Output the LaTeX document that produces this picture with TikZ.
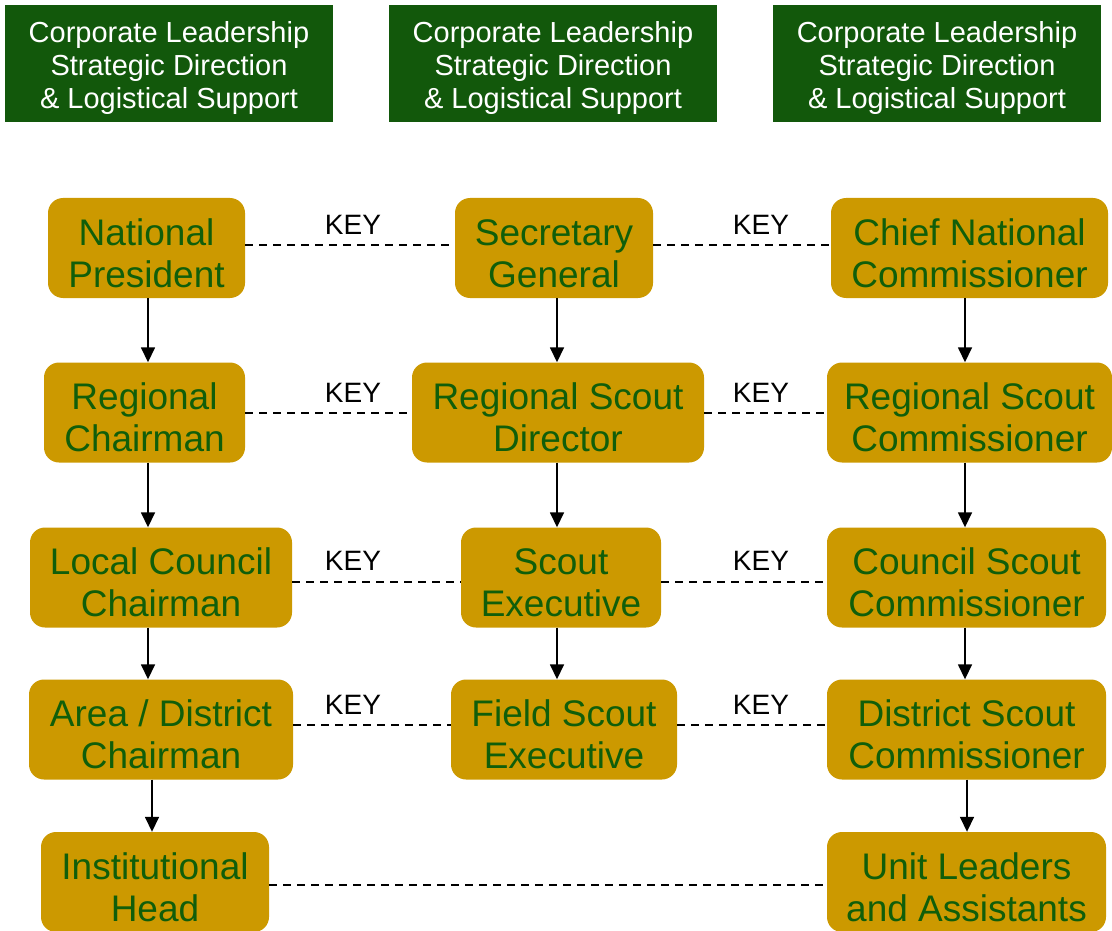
\documentclass[tikz,border=0pt]{standalone}
\usepackage{fontspec}
\setmainfont{Liberation Sans}
\usetikzlibrary{arrows.meta}

\definecolor{leadgreen}{RGB}{18,88,11}
\definecolor{scoutgold}{RGB}{204,153,0}
\definecolor{scouttext}{RGB}{16,94,10}

\begin{document}
\begin{tikzpicture}[x=1pt,y=-1pt]
        \tikzstyle{every node}=[font=\fontsize{37}{42}\selectfont]
        \tikzstyle{corp}=[fill=leadgreen, text=white, align=center, inner sep=0pt,
            minimum width=328pt, minimum height=117pt, font=\fontsize{29}{33}\selectfont,
            execute at begin node={\rule{0pt}{96pt}}]
        \tikzstyle{post}=[fill=scoutgold, text=scouttext, align=center, inner sep=0pt,
            rounded corners=15pt, minimum height=100pt,
            execute at begin node={\rule{0pt}{79pt}}]
        \tikzstyle{keylbl}=[inner sep=0pt, font=\fontsize{28}{32}\selectfont]
        \tikzstyle{chain}=[line width=1.6pt, -{Triangle[width=14pt,length=15pt]}]
        \tikzstyle{key}=[line width=2pt, dash pattern=on 7.5pt off 6.5pt]

        \useasboundingbox (0,0) rectangle (1112,931);

        % corporate support
        \node[corp] (corpA) at (169,63.5) {Corporate Leadership\\Strategic Direction\\\& Logistical Support};
        \node[corp] (corpB) at (553,63.5) {Corporate Leadership\\Strategic Direction\\\& Logistical Support};
        \node[corp] (corpC) at (937,63.5) {Corporate Leadership\\Strategic Direction\\\& Logistical Support};

        % volunteer chairmen
        \node[post, minimum width=197pt] (natPres) at (146.5,248) {National\\President};
        \node[post, minimum width=201pt] (regChair) at (144.5,412.5) {Regional\\Chairman};
        \node[post, minimum width=262pt] (locChair) at (161,577.5) {Local Council\\Chairman};
        \node[post, minimum width=264pt] (distChair) at (161,729.5) {Area / District\\Chairman};
        \node[post, minimum width=228pt] (instHead) at (155,882) {Institutional\\Head};

        % professionals
        \node[post, minimum width=198pt] (secGen) at (554,248) {Secretary\\General};
        \node[post, minimum width=292pt] (regDir) at (558,412.5) {Regional Scout\\Director};
        \node[post, minimum width=200pt] (scoutExec) at (561,577.5) {Scout\\Executive};
        \node[post, minimum width=226pt] (fieldExec) at (564,729.5) {Field Scout\\Executive};

        % commissioners
        \node[post, minimum width=277pt] (chiefComm) at (969.5,248) {Chief National\\Commissioner};
        \node[post, minimum width=285pt] (regComm) at (969.5,412.5) {Regional Scout\\Commissioner};
        \node[post, minimum width=279pt] (counComm) at (966.5,577.5) {Council Scout\\Commissioner};
        \node[post, minimum width=279pt] (distComm) at (966.5,729.5) {District Scout\\Commissioner};
        \node[post, minimum width=279pt] (unitLead) at (966.5,882) {Unit Leaders\\and Assistants};

        \coordinate (colA) at (148,0);
        \coordinate (colB) at (557,0);
        \coordinate (colC) at (965,0);

        \draw[chain] (colA |- natPres.south) -- (colA |- regChair.north);
        \draw[chain] (colA |- regChair.south) -- (colA |- locChair.north);
        \draw[chain] (colA |- locChair.south) -- (colA |- distChair.north);
        \draw[chain] ([xshift=-9pt]distChair.south) -- ([xshift=-3pt]instHead.north);
        \draw[chain] (colB |- secGen.south) -- (colB |- regDir.north);
        \draw[chain] (colB |- regDir.south) -- (colB |- scoutExec.north);
        \draw[chain] (colB |- scoutExec.south) -- (colB |- fieldExec.north);
        \draw[chain] (colC |- chiefComm.south) -- (colC |- regComm.north);
        \draw[chain] (colC |- regComm.south) -- (colC |- counComm.north);
        \draw[chain] (colC |- counComm.south) -- (colC |- distComm.north);
        \draw[chain] ([xshift=0.5pt]distComm.south) -- ([xshift=0.5pt]unitLead.north);

        % KEY links
        \draw[key] ([yshift=3pt]natPres.east) -- ([yshift=3pt]secGen.west);
        \draw[key] ([yshift=3pt]secGen.east) -- ([yshift=3pt]chiefComm.west);
        \draw[key] (regChair) -- (regDir) -- (regComm);
        \draw[key] ([yshift=-4pt]locChair.east) -- ([yshift=-4pt]scoutExec.west);
        \draw[key] ([yshift=-4pt]scoutExec.east) -- ([yshift=-4pt]counComm.west);
        \draw[key] ([yshift=4.5pt]distChair.east) -- ([yshift=4.5pt]fieldExec.west);
        \draw[key] ([yshift=4.5pt]fieldExec.east) -- ([yshift=4.5pt]distComm.west);
        \draw[key] ([yshift=-3pt]instHead.east) -- ([yshift=-3pt]unitLead.west);

        \node[keylbl] (keyA1) at (353,225) {KEY};
        \node[keylbl] (keyC1) at (761,225) {KEY};
        \node[keylbl] (keyA2) at (353,393) {KEY};
        \node[keylbl] (keyC2) at (761,393) {KEY};
        \node[keylbl] (keyA3) at (353,561) {KEY};
        \node[keylbl] (keyC3) at (761,561) {KEY};
        \node[keylbl] (keyA4) at (353,705) {KEY};
        \node[keylbl] (keyC4) at (761,705) {KEY};
    \end{tikzpicture}
\end{document}
